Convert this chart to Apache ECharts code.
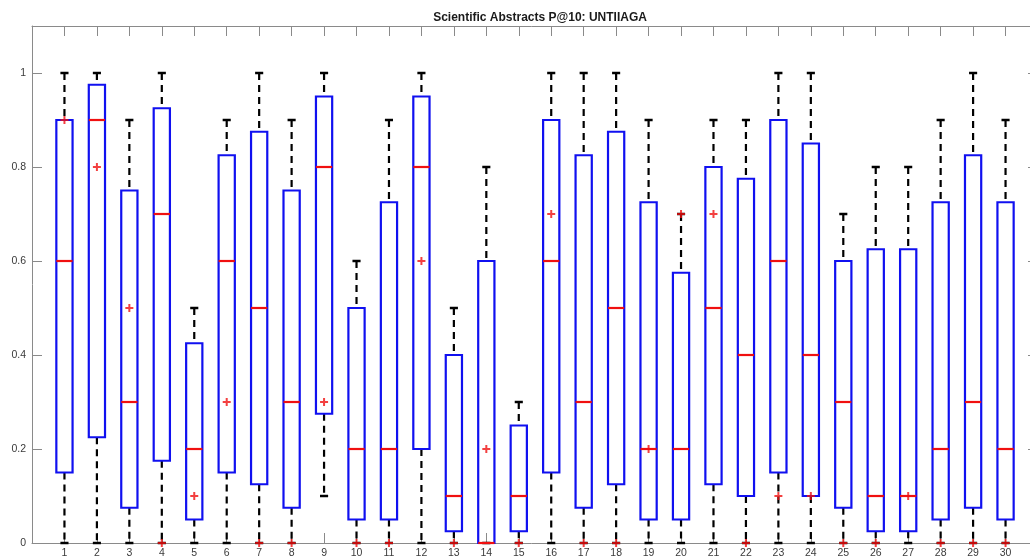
<!DOCTYPE html>
<html>
<head>
<meta charset="utf-8">
<script src="https://cdn.jsdelivr.net/npm/echarts@6/dist/echarts.min.js"></script>
<style>
html,body{margin:0;padding:0;background:#fff;}
#chart{width:1030px;height:558px;}
</style>
</head>
<body>
<div id="chart"></div>
<script>
const categories = [1,2,3,4,5,6,7,8,9,10,11,12,13,14,15,16,17,18,19,20,21,22,23,24,25,26,27,28,29,30];
const lowWhisker = [0,0,0,0,0,0,0,0,0.1,0,0,0,0,0,0,0,0,0,0,0,0,0,0,0,0,0,0,0,0,0];
const q1 = [0.15,0.225,0.075,0.175,0.05,0.15,0.125,0.075,0.275,0.05,0.05,0.2,0.025,0,0.025,0.15,0.075,0.125,0.05,0.05,0.125,0.1,0.15,0.1,0.075,0.025,0.025,0.05,0.075,0.05];
const median = [0.6,0.9,0.3,0.7,0.2,0.6,0.5,0.3,0.8,0.2,0.2,0.8,0.1,0,0.1,0.6,0.3,0.5,0.2,0.2,0.5,0.4,0.6,0.4,0.3,0.1,0.1,0.2,0.3,0.2];
const q3 = [0.9,0.975,0.75,0.925,0.425,0.825,0.875,0.75,0.95,0.5,0.725,0.95,0.4,0.6,0.25,0.9,0.825,0.875,0.725,0.575,0.8,0.775,0.9,0.85,0.6,0.625,0.625,0.725,0.825,0.725];
const highWhisker = [1,1,0.9,1,0.5,0.9,1,0.9,1,0.6,0.9,1,0.5,0.8,0.3,1,1,1,0.9,0.7,0.9,0.9,1,1,0.7,0.8,0.8,0.9,1,0.9];
const markers = [0.9,0.8,0.5,0,0.1,0.3,0,0,0.3,0,0,0.6,0,0.2,0,0.7,0,0,0.2,0.7,0.7,0,0.1,0.1,0,0,0.1,0,0,0];
const yTicks = [0,0.2,0.4,0.6,0.8,1];

const boxData = categories.map((c,i)=>[c, lowWhisker[i], q1[i], median[i], q3[i], highWhisker[i]]);
const markerData = categories.map((c,i)=>[c, markers[i]]);

const BOX_HALF = 0.25, CAP_HALF = 0.125;

function renderItem(params, api){
  const x = api.value(0), lo = api.value(1), a = api.value(2), m = api.value(3), b = api.value(4), hi = api.value(5);
  const cx = api.coord([x, 0])[0];
  const xl = api.coord([x-BOX_HALF, 0])[0], xr = api.coord([x+BOX_HALF, 0])[0];
  const cl = api.coord([x-CAP_HALF, 0])[0], cr = api.coord([x+CAP_HALF, 0])[0];
  const y = v => api.coord([x, v])[1];
  const children = [];
  const dash = {stroke:'#000', lineWidth:2.2, lineDash:[7,5], fill:null};
  if (hi > b) children.push({type:'line', shape:{x1:cx,y1:y(hi),x2:cx,y2:y(b)}, style:dash});
  if (lo < a) children.push({type:'line', shape:{x1:cx,y1:y(a),x2:cx,y2:y(lo)}, style:dash});
  children.push({type:'line', shape:{x1:cl,y1:y(hi),x2:cr,y2:y(hi)}, style:{stroke:'#000', lineWidth:2.5}});
  children.push({type:'line', shape:{x1:cl,y1:y(lo),x2:cr,y2:y(lo)}, style:{stroke:'#000', lineWidth:2.5}});
  children.push({type:'rect', shape:{x:xl, y:y(b), width:xr-xl, height:y(a)-y(b)}, style:{fill:null, stroke:'#1010f0', lineWidth:2.2}});
  children.push({type:'line', shape:{x1:xl,y1:y(m),x2:xr,y2:y(m)}, style:{stroke:'#f01010', lineWidth:2.2}});
  return {type:'group', children};
}

const axisGray = '#8a8a8a';
const labelColor = '#3a3a3a';
const font = 'Liberation Sans, Arial, sans-serif';

function frameAxis(position, extra){
  return Object.assign({
    type:'value', position:position,
    axisLine:{show:true, onZero:false, lineStyle:{color:axisGray, width:1}},
    axisTick:{show:true, inside:true, length:10, lineStyle:{color:axisGray}},
    axisLabel:{show:false},
    splitLine:{show:false}
  }, extra);
}

const chart = echarts.init(document.getElementById('chart'), null, {renderer:'canvas'});
chart.setOption({
  animation:false,
  backgroundColor:'#fff',
  title:{
    text:'Scientific Abstracts P@10: UNTIIAGA',
    left:535, top:7, textAlign:'center',
    textStyle:{fontFamily:font, fontSize:12, fontWeight:'bold', color:'#1a1a1a'}
  },
  grid:{left:32, right:-8, top:26, bottom:15, outerBoundsMode:'none', containLabel:false},
  xAxis:[
    frameAxis('bottom', {min:0, max:31, interval:1,
      axisLabel:{show:true, margin:5, color:labelColor, fontSize:10.5, fontFamily:font,
        formatter:v => categories.indexOf(v) >= 0 ? String(v) : ''}}),
    frameAxis('top', {min:0, max:31, interval:1})
  ],
  yAxis:[
    frameAxis('left', {min:0, max:1.1, interval:0.2,
      axisLabel:{show:true, margin:6, color:labelColor, fontSize:10.5, fontFamily:font,
        formatter:v => yTicks.some(t=>Math.abs(t-v)<1e-9) ? String(Math.round(v*10)/10) : ''}}),
    frameAxis('right', {min:0, max:1.1, interval:0.2})
  ],
  series:[
    {type:'custom', xAxisIndex:0, yAxisIndex:0, renderItem:renderItem, data:boxData,
      encode:{x:0, y:[1,2,3,4,5]}, z:3, clip:false},
    {type:'scatter', xAxisIndex:0, yAxisIndex:0, data:markerData, z:5,
      symbol:'path://M3,0H5V3H8V5H5V8H3V5H0V3H3Z', symbolSize:8,
      itemStyle:{color:'#f01010'}}
  ]
});
</script>
</body>
</html>
